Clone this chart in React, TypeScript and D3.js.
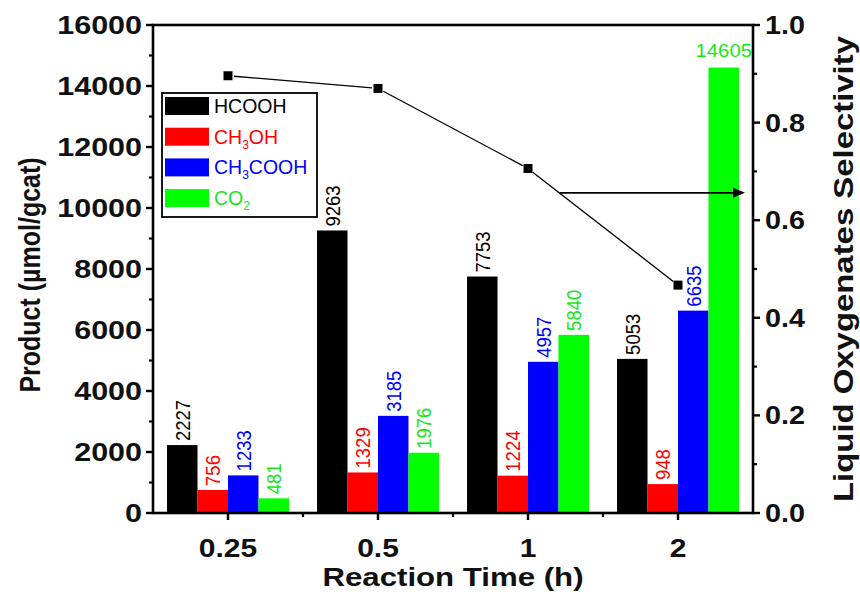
import React from "react";
import * as d3 from "d3";

const categories = ["0.25", "0.5", "1", "2"];
const seriesKeys = ["HCOOH", "CH3OH", "CH3COOH", "CO2"];
const hcooh = [2227, 9263, 7753, 5053];
const ch3oh = [756, 1329, 1224, 948];
const ch3cooh = [1233, 3185, 4957, 6635];
const co2 = [481, 1976, 5840, 14605];
const selectivity = [0.896, 0.87, 0.706, 0.467];
const arrowValue = 0.656;
const leftTicks = [0, 2000, 4000, 6000, 8000, 10000, 12000, 14000, 16000];
const leftMinor = [1000, 3000, 5000, 7000, 9000, 11000, 13000, 15000];
const rightTicks = [0, 0.2, 0.4, 0.6, 0.8, 1.0];
const rightMinor = [0.1, 0.3, 0.5, 0.7, 0.9];
const barColors = ["#000000", "#ff0000", "#0000ff", "#00ff00"];
const textColors = ["#000000", "#ff0000", "#0000ff", "#19e619"];
const legendParts: [string, string, string][] = [
  ["HCOOH", "", ""],
  ["CH", "3", "OH"],
  ["CH", "3", "COOH"],
  ["CO", "2", ""],
];

const W = 860;
const H = 592;
const m = { left: 153, right: 753, top: 25, bottom: 513 };
const FONT = "'Liberation Sans', Arial, Helvetica, sans-serif";

export default function App() {
  const values = [hcooh, ch3oh, ch3cooh, co2];
  const x = d3.scaleBand<string>().domain(categories).range([m.left, m.right]).padding(0);
  const xs = d3
    .scaleBand<string>()
    .domain(seriesKeys)
    .range([0, x.bandwidth()])
    .paddingInner(0)
    .paddingOuter(0.46);
  const y = d3.scaleLinear().domain([0, 16000]).range([m.bottom, m.top]);
  const yr = d3.scaleLinear().domain([0, 1]).range([m.bottom, m.top]);

  const valFont = 18.5;
  const valScale = 1.1;
  const charW = valFont * 0.556;

  const pts = categories.map((c, i) => [x(c)! + x.bandwidth() / 2, yr(selectivity[i])] as [number, number]);
  const gap = 6;
  const segs = pts.slice(1).map((p, i) => {
    const a = pts[i];
    const dx = p[0] - a[0];
    const dy = p[1] - a[1];
    const len = Math.hypot(dx, dy);
    const ux = dx / len;
    const uy = dy / len;
    return [a[0] + ux * gap, a[1] + uy * gap, p[0] - ux * gap, p[1] - uy * gap];
  });
  const ay = yr(arrowValue);
  const p3 = pts[2];
  const p4 = pts[3];
  const ax = p3[0] + ((ay - p3[1]) / (p4[1] - p3[1])) * (p4[0] - p3[0]);
  const arrowTip = m.right - 8;

  const line = d3.line();

  return (
    <svg
      width={W}
      height={H}
      style={{ position: "absolute", left: 0, top: 0, background: "#fff" }}
      fontFamily={FONT}
    >
      <rect x={0} y={0} width={W} height={H} fill="#fff" />
      {categories.map((c, i) => (
        <g key={c}>
          {seriesKeys.map((s, j) => {
            const v = values[j][i];
            const bx = x(c)! + xs(s)!;
            const bw = xs.bandwidth();
            const top = y(v);
            return <rect key={s} x={bx} y={top} width={bw} height={m.bottom - top} fill={barColors[j]} />;
          })}
        </g>
      ))}
      {categories.map((c, i) => (
        <g key={"l" + c}>
          {seriesKeys.map((s, j) => {
            const v = values[j][i];
            const cx = x(c)! + xs(s)! + xs.bandwidth() / 2;
            const top = y(v);
            const txt = String(v);
            const len = txt.length * charW;
            if (top - 4 - len < m.top + 2) {
              return (
                <text
                  key={s}
                  transform={`translate(${cx},${top - 11}) scale(${valScale},1)`}
                  textAnchor="middle"
                  fontSize={valFont}
                  fill={textColors[j]}
                >
                  {txt}
                </text>
              );
            }
            return (
              <text
                key={s}
                transform={`translate(${cx + valFont * 0.36 * valScale},${top - 4}) scale(${valScale},1) rotate(-90)`}
                fontSize={valFont}
                fill={textColors[j]}
              >
                {txt}
              </text>
            );
          })}
        </g>
      ))}
      {segs.map((s, i) => (
        <path key={"s" + i} d={line([[s[0], s[1]], [s[2], s[3]]])!} stroke="#000" strokeWidth={1.3} fill="none" />
      ))}
      {pts.map((p, i) => (
        <rect key={"p" + i} x={p[0] - 4.5} y={p[1] - 4.5} width={9} height={9} fill="#000" />
      ))}
      <path d={line([[ax, ay], [arrowTip - 6, ay]])!} stroke="#000" strokeWidth={1.6} fill="none" />
      <path d={`M${arrowTip},${ay} L${arrowTip - 12},${ay - 5} L${arrowTip - 12},${ay + 5} Z`} fill="#000" />

      <rect
        x={m.left}
        y={m.top}
        width={m.right - m.left}
        height={m.bottom - m.top}
        fill="none"
        stroke="#000"
        strokeWidth={2.6}
      />
      {leftTicks.map((t) => (
        <g key={"lt" + t}>
          <line x1={m.left - 7} x2={m.left} y1={y(t)} y2={y(t)} stroke="#000" strokeWidth={2.4} />
          <text
            transform={`translate(${m.left - 11},${y(t) + 9}) scale(1.22,1)`}
            textAnchor="end"
            fontSize={25}
            fontWeight="bold"
            fill="#111"
          >
            {t}
          </text>
        </g>
      ))}
      {leftMinor.map((t) => (
        <line key={"lm" + t} x1={m.left - 4} x2={m.left} y1={y(t)} y2={y(t)} stroke="#000" strokeWidth={2.2} />
      ))}
      {rightTicks.map((t) => (
        <g key={"rt" + t}>
          <line x1={m.right} x2={m.right + 7} y1={yr(t)} y2={yr(t)} stroke="#000" strokeWidth={2.4} />
          <text
            transform={`translate(${m.right + 12},${yr(t) + 9}) scale(1.15,1)`}
            textAnchor="start"
            fontSize={25}
            fontWeight="bold"
            fill="#111"
          >
            {t.toFixed(1)}
          </text>
        </g>
      ))}
      {rightMinor.map((t) => (
        <line key={"rm" + t} x1={m.right} x2={m.right + 4} y1={yr(t)} y2={yr(t)} stroke="#000" strokeWidth={2.2} />
      ))}
      {categories.map((c) => {
        const cx = x(c)! + x.bandwidth() / 2;
        return (
          <g key={"bt" + c}>
            <line x1={cx} x2={cx} y1={m.bottom} y2={m.bottom + 7} stroke="#000" strokeWidth={2.4} />
            <text
              transform={`translate(${cx},${m.bottom + 44}) scale(1.2,1)`}
              textAnchor="middle"
              fontSize={25}
              fontWeight="bold"
              fill="#111"
            >
              {c}
            </text>
          </g>
        );
      })}
      {categories.slice(1).map((c) => (
        <line key={"bm" + c} x1={x(c)!} x2={x(c)!} y1={m.bottom} y2={m.bottom + 4} stroke="#000" strokeWidth={2.2} />
      ))}
      <text
        transform={`translate(${(m.left + m.right) / 2},${586}) scale(1.2,1)`}
        textAnchor="middle"
        fontSize={26}
        fontWeight="bold"
        fill="#111"
      >
        Reaction Time (h)
      </text>
      <text
        transform={`translate(${40},${(m.top + m.bottom) / 2 + 6}) scale(1.2,1) rotate(-90)`}
        textAnchor="middle"
        fontSize={25}
        fontWeight="bold"
        fill="#111"
      >
        Product (µmol/gcat)
      </text>
      <text
        transform={`translate(${853},${(m.top + m.bottom) / 2}) scale(1.05,1) rotate(-90)`}
        textAnchor="middle"
        fontSize={26}
        fontWeight="bold"
        fill="#111"
        textLength={466}
        lengthAdjust="spacingAndGlyphs"
      >
        Liquid Oxygenates  Selectivity
      </text>
      <g>
        <rect x={162} y={93} width={155} height={124} fill="#fff" stroke="#000" strokeWidth={1.8} />
        {legendParts.map((p, i) => {
          const ry = 97 + i * 30.7;
          return (
            <g key={"lg" + i}>
              <rect x={165} y={ry} width={44} height={18} fill={barColors[i]} />
              <text x={214} y={ry + 16} fontSize={19.5} fill={textColors[i]}>
                {p[0]}
                {p[1] && (
                  <tspan fontSize={12} dy={5}>
                    {p[1]}
                  </tspan>
                )}
                {p[2] && <tspan dy={-5}>{p[2]}</tspan>}
              </text>
            </g>
          );
        })}
      </g>
    </svg>
  );
}
